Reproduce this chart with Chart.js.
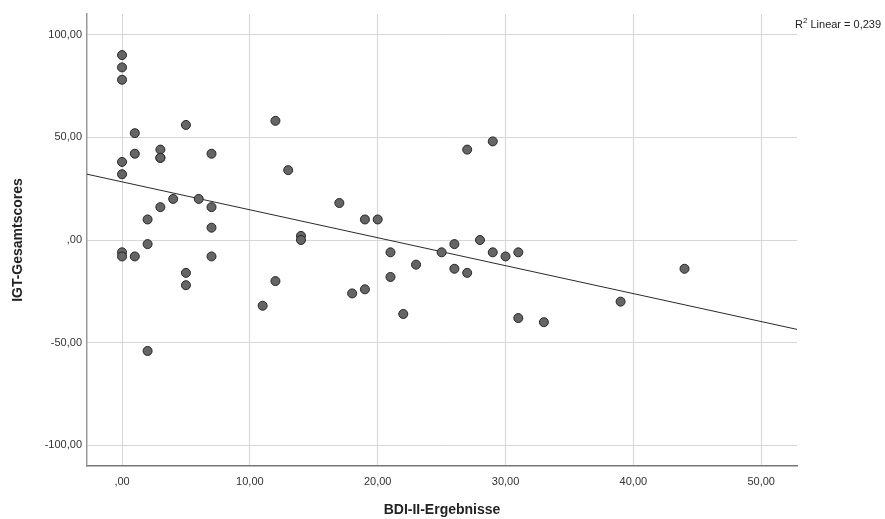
<!DOCTYPE html>
<html>
<head>
<meta charset="utf-8">
<script src="https://cdn.jsdelivr.net/npm/chart.js@4.4.1/dist/chart.umd.min.js"></script>
<style>
  html, body { margin: 0; padding: 0; background: #ffffff; }
  #wrap { width: 885px; height: 519px; }
</style>
</head>
<body>
<div id="wrap"><canvas id="chart" width="885" height="519"></canvas></div>
<script>
// BDI-II scores (x) and IGT total scores (y), one entry per participant
var bdiScores = [0, 0, 0, 0, 0, 0, 0,
  1, 1, 1,
  2, 2, 2,
  3, 3, 3, 3,
  4,
  5, 5, 5,
  6,
  7, 7, 7, 7,
  11, 12, 12, 13, 14, 14,
  17, 18, 19, 19, 20,
  21, 21, 22, 23, 25,
  26, 26, 27, 27, 28, 29, 29, 30,
  31, 31, 33, 39, 44];
var igtScores = [90, 84, 78, 38, 32, -6, -8,
  52, 42, -8,
  10, -2, -54,
  44, 40, 40, 16,
  20,
  56, -16, -22,
  20,
  42, 16, 6, -8,
  -32, 58, -20, 34, 2, 0,
  18, -26, 10, -24, 10,
  -6, -18, -36, -12, -6,
  -2, -14, 44, -16, 0, 48, -6, -8,
  -6, -38, -40, -30, -14];

// linear fit as shown in the picture
var fitIntercept = 28.3;
var fitSlope = -1.36;
var fitLabel = "Linear = 0,239";

var xTickValues = [0, 10, 20, 30, 40, 50];
var xTickLabels = [",00", "10,00", "20,00", "30,00", "40,00", "50,00"];
var yTickValues = [-100, -50, 0, 50, 100];
var yTickLabels = ["-100,00", "-50,00", ",00", "50,00", "100,00"];

var xMin = -2.74, xMax = 52.8;
var yMin = -110, yMax = 110;

var points = [];
for (var i = 0; i < bdiScores.length; i++) {
  points.push({ x: bdiScores[i], y: igtScores[i] });
}
var fitLine = [
  { x: xMin, y: fitIntercept + fitSlope * xMin },
  { x: xMax, y: fitIntercept + fitSlope * xMax }
];

function labelFor(values, labels) {
  return function(v) {
    var idx = values.indexOf(v);
    return idx == -1 ? "" : labels[idx];
  };
}

// R² label in the top right corner
var r2Plugin = {
  id: "r2label",
  afterDraw: function(chart) {
    var ctx = chart.ctx;
    ctx.save();
    ctx.fillStyle = "#222";
    ctx.textBaseline = "alphabetic";
    ctx.textAlign = "left";
    ctx.font = "11px 'Liberation Sans', Arial, sans-serif";
    var x = chart.chartArea.right - 2;
    var y = 28;
    ctx.fillText("R", x, y);
    var w = ctx.measureText("R").width;
    ctx.font = "8px 'Liberation Sans', Arial, sans-serif";
    ctx.fillText("2", x + w, y - 5);
    var w2 = ctx.measureText("2").width;
    ctx.font = "11px 'Liberation Sans', Arial, sans-serif";
    ctx.fillText(" " + fitLabel, x + w + w2, y);
    ctx.restore();
  }
};

var tickFont = { family: "'Liberation Sans', Arial, sans-serif", size: 11 };
var titleFont = { family: "'Liberation Sans', Arial, sans-serif", size: 14, weight: "bold" };

new Chart(document.getElementById("chart"), {
  type: "scatter",
  data: {
    datasets: [{
      data: points,
      pointRadius: 4.5,
      pointHoverRadius: 4.5,
      pointBackgroundColor: "#656565",
      pointBorderColor: "#262626",
      pointBorderWidth: 1
    }, {
      type: "line",
      data: fitLine,
      borderColor: "#2a2a2a",
      borderWidth: 1,
      pointRadius: 0,
      fill: false
    }]
  },
  options: {
    responsive: false,
    animation: false,
    layout: { padding: { left: 0, top: 14, right: 88, bottom: 0 } },
    plugins: { legend: { display: false }, tooltip: { enabled: false } },
    scales: {
      x: {
        type: "linear",
        min: xMin,
        max: xMax,
        afterBuildTicks: function(scale) {
          scale.ticks = xTickValues.map(function(v) { return { value: v }; });
        },
        afterFit: function(scale) { scale.height = 53; },
        grid: { color: "#d6d6d6", lineWidth: 1, drawTicks: false },
        border: { color: "#777777", width: 1.5 },
        ticks: {
          padding: 9,
          color: "#333",
          font: tickFont,
          maxRotation: 0,
          callback: labelFor(xTickValues, xTickLabels)
        },
        title: {
          display: true,
          text: "BDI-II-Ergebnisse",
          color: "#222",
          font: titleFont,
          padding: { top: 0, bottom: 0 }
        }
      },
      y: {
        type: "linear",
        min: yMin,
        max: yMax,
        afterBuildTicks: function(scale) {
          scale.ticks = yTickValues.map(function(v) { return { value: v }; });
        },
        afterFit: function(scale) { scale.width = 87; },
        grid: { color: "#d6d6d6", lineWidth: 1, drawTicks: false },
        border: { color: "#999999", width: 1.5 },
        ticks: {
          padding: 5,
          color: "#333",
          font: tickFont,
          callback: labelFor(yTickValues, yTickLabels)
        },
        title: {
          display: true,
          text: "IGT-Gesamtscores",
          color: "#222",
          font: titleFont,
          padding: { top: 10, bottom: 0 }
        }
      }
    }
  },
  plugins: [r2Plugin]
});
</script>
</body>
</html>
